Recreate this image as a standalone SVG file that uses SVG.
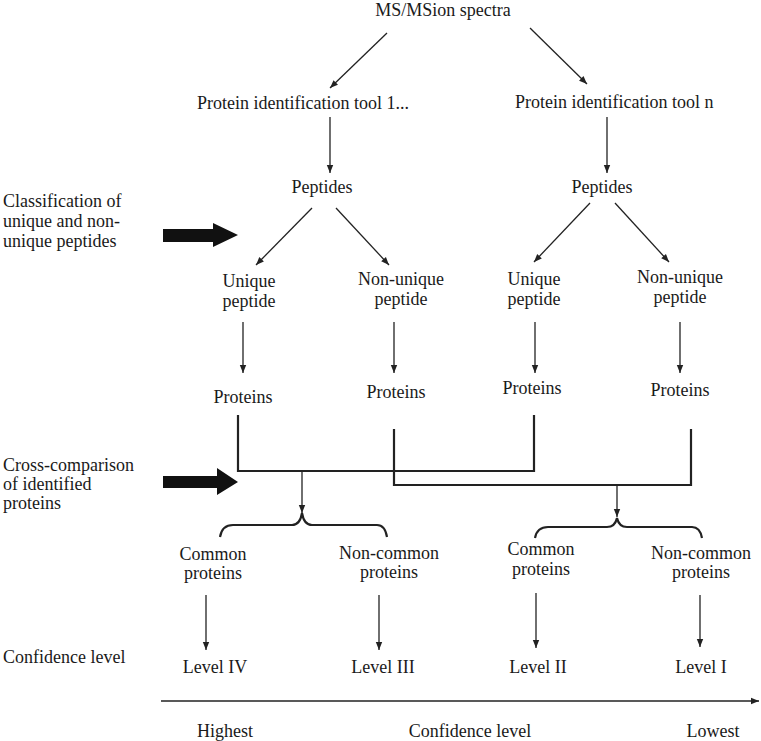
<svg xmlns="http://www.w3.org/2000/svg" width="761" height="741" viewBox="0 0 761 741">
<style>
text{font-family:"Liberation Serif","Times New Roman",serif;font-size:18px;fill:#1a1a1a}
.c{text-anchor:middle}
.a{stroke:#222;stroke-width:1.3;fill:none;marker-end:url(#ah)}
.b{stroke:#222;stroke-width:2.2;fill:none}
.big{fill:#111}
</style>
<defs>
<marker id="ah" viewBox="0 0 10 10" refX="10" refY="5" markerWidth="10" markerHeight="8" markerUnits="userSpaceOnUse" orient="auto">
<path d="M0,1 L10,5 L0,9 z" fill="#222"/>
</marker>
</defs>
<rect width="761" height="741" fill="#fff"/>

<g id="spectra"><text x="443" y="16" class="c">MS/MSion spectra</text></g>
<g id="tool1"><text x="197" y="109">Protein identification tool 1...</text></g>
<g id="tooln"><text x="515" y="108">Protein identification tool n</text></g>
<g id="peptides1"><text x="322" y="193" class="c">Peptides</text></g>
<g id="peptides2"><text x="602" y="193" class="c">Peptides</text></g>

<g id="label-classification">
<text x="3" y="207">Classification of</text>
<text x="3" y="227">unique and non-</text>
<text x="3" y="247">unique peptides</text>
<polygon class="big" points="163,229 213,229 213,223 238,235 213,247 213,242 163,242"/>
</g>

<g id="unique1"><text x="249" y="287" class="c">Unique</text><text x="249" y="307" class="c">peptide</text></g>
<g id="nonunique1"><text x="401" y="285" class="c">Non-unique</text><text x="401" y="305" class="c">peptide</text></g>
<g id="unique2"><text x="534" y="285" class="c">Unique</text><text x="534" y="305" class="c">peptide</text></g>
<g id="nonunique2"><text x="680" y="283" class="c">Non-unique</text><text x="680" y="303" class="c">peptide</text></g>

<g id="proteins1"><text x="243" y="403" class="c">Proteins</text></g>
<g id="proteins2"><text x="396" y="398" class="c">Proteins</text></g>
<g id="proteins3"><text x="532" y="394" class="c">Proteins</text></g>
<g id="proteins4"><text x="680" y="396" class="c">Proteins</text></g>

<g id="label-cross">
<text x="3" y="471">Cross-comparison</text>
<text x="3" y="490">of identified</text>
<text x="3" y="509">proteins</text>
<polygon class="big" points="163,476 217,476 217,468 238,482 217,495 217,488 163,488"/>
</g>

<g id="common1"><text x="213" y="560" class="c">Common</text><text x="213" y="579" class="c">proteins</text></g>
<g id="noncommon1"><text x="389" y="559" class="c">Non-common</text><text x="389" y="578" class="c">proteins</text></g>
<g id="common2"><text x="541" y="555" class="c">Common</text><text x="541" y="575" class="c">proteins</text></g>
<g id="noncommon2"><text x="701" y="559" class="c">Non-common</text><text x="701" y="578" class="c">proteins</text></g>

<g id="label-confidence"><text x="3" y="663">Confidence level</text></g>
<g id="level4"><text x="215" y="673" class="c">Level IV</text></g>
<g id="level3"><text x="383" y="673" class="c">Level III</text></g>
<g id="level2"><text x="538" y="673" class="c">Level II</text></g>
<g id="level1"><text x="701" y="673" class="c">Level I</text></g>

<g id="axis-labels">
<text x="225" y="737" class="c">Highest</text>
<text x="470" y="737" class="c">Confidence level</text>
<text x="713" y="737" class="c">Lowest</text>
</g>

<g id="connectors">
<line class="a" x1="387" y1="33" x2="330" y2="88"/>
<line class="a" x1="530" y1="28" x2="587" y2="84"/>
<line class="a" x1="330" y1="117" x2="330" y2="173"/>
<line class="a" x1="607" y1="117" x2="607" y2="173"/>
<line class="a" x1="312" y1="208" x2="256" y2="265"/>
<line class="a" x1="336" y1="208" x2="389" y2="265"/>
<line class="a" x1="590" y1="203" x2="534" y2="262"/>
<line class="a" x1="615" y1="203" x2="669" y2="262"/>
<line class="a" x1="243" y1="322" x2="243" y2="373"/>
<line class="a" x1="394" y1="322" x2="394" y2="373"/>
<line class="a" x1="535" y1="322" x2="535" y2="373"/>
<line class="a" x1="680" y1="322" x2="680" y2="373"/>
<path class="b" d="M238,415 V471 H534 V415"/>
<path class="b" d="M394,429 V485 H691 V429"/>
<line class="a" x1="302" y1="471" x2="302" y2="513"/>
<line class="a" x1="617" y1="485" x2="617" y2="517"/>
<path class="b" d="M220,537 Q222,525 233,525 H292 Q300,525 302,513 Q304,525 312,525 H377 Q385,525 387,537"/>
<path class="b" d="M535,538 Q537,527 548,527 H607 Q615,527 617,518 Q619,527 627,527 H692 Q700,527 702,538"/>
<line class="a" x1="206" y1="595" x2="206" y2="650"/>
<line class="a" x1="379" y1="595" x2="379" y2="650"/>
<line class="a" x1="536" y1="593" x2="536" y2="648"/>
<line class="a" x1="700" y1="595" x2="700" y2="647"/>
<line class="a" x1="161" y1="701" x2="759" y2="701"/>
</g>
</svg>
